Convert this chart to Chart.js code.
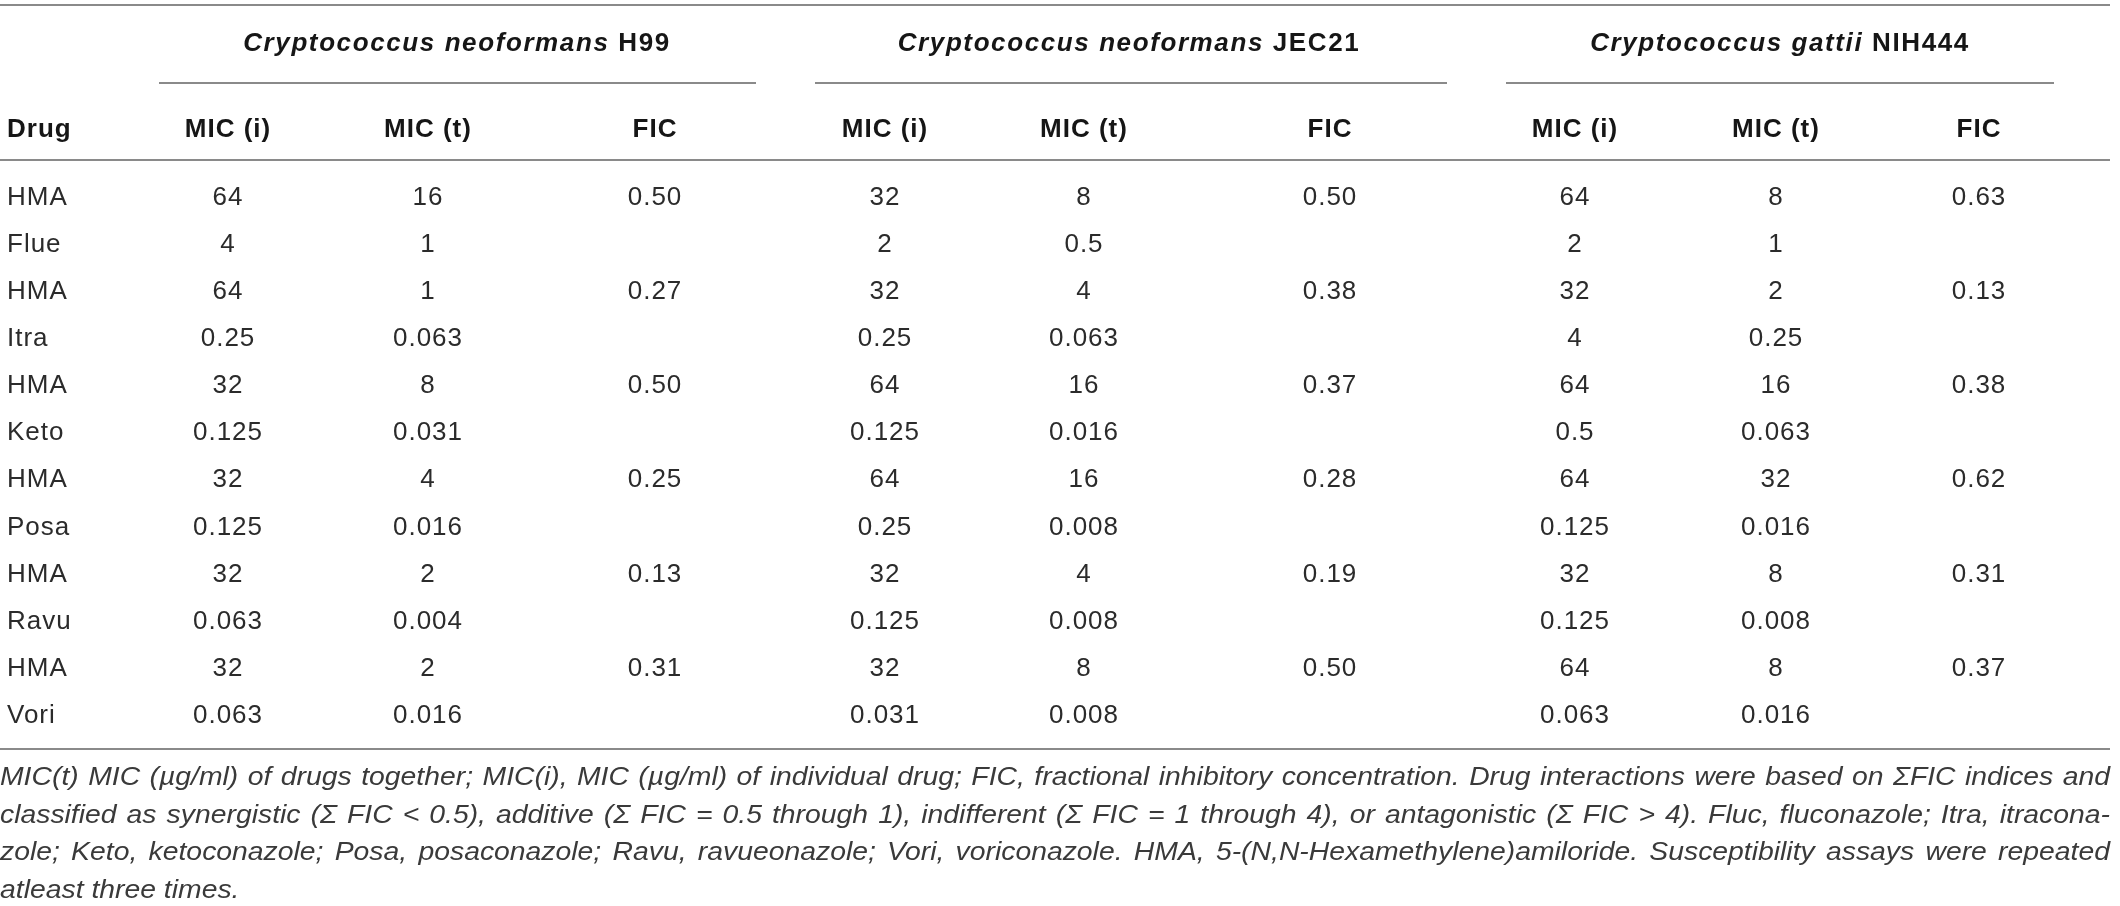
<!DOCTYPE html>
<html>
<head>
<meta charset="utf-8">
<script src="https://cdn.jsdelivr.net/npm/chart.js@4.4.1/dist/chart.umd.min.js"></script>
<style>
  html, body { margin: 0; padding: 0; background: #fff; }
  #wrap { width: 2120px; height: 906px; position: relative; }
</style>
</head>
<body>
<div id="wrap"><canvas id="table"></canvas></div>
<script>
// --- Data ---
const drugs = ['HMA', 'Flue', 'HMA', 'Itra', 'HMA', 'Keto', 'HMA', 'Posa', 'HMA', 'Ravu', 'HMA', 'Vori'];
const species = ['Cryptococcus neoformans', 'Cryptococcus neoformans', 'Cryptococcus gattii'];
const strains = ['H99', 'JEC21', 'NIH444'];
const subHeaders = ['MIC (i)', 'MIC (t)', 'FIC'];

const h99MicI = ['64', '4', '64', '0.25', '32', '0.125', '32', '0.125', '32', '0.063', '32', '0.063'];
const h99MicT = ['16', '1', '1', '0.063', '8', '0.031', '4', '0.016', '2', '0.004', '2', '0.016'];
const h99Fic = ['0.50', '', '0.27', '', '0.50', '', '0.25', '', '0.13', '', '0.31', ''];

const jec21MicI = ['32', '2', '32', '0.25', '64', '0.125', '64', '0.25', '32', '0.125', '32', '0.031'];
const jec21MicT = ['8', '0.5', '4', '0.063', '16', '0.016', '16', '0.008', '4', '0.008', '8', '0.008'];
const jec21Fic = ['0.50', '', '0.38', '', '0.37', '', '0.28', '', '0.19', '', '0.50', ''];

const nih444MicI = ['64', '2', '32', '4', '64', '0.5', '64', '0.125', '32', '0.125', '64', '0.063'];
const nih444MicT = ['8', '1', '2', '0.25', '16', '0.063', '32', '0.016', '8', '0.008', '8', '0.016'];
const nih444Fic = ['0.63', '', '0.13', '', '0.38', '', '0.62', '', '0.31', '', '0.37', ''];

const footnote = [
    'MIC(t) MIC (\u00b5g/ml) of drugs together; MIC(i), MIC (\u00b5g/ml) of individual drug; FIC, fractional inhibitory concentration. Drug interactions were based on \u03a3FIC indices and',
    'classified as synergistic (\u03a3 FIC < 0.5), additive (\u03a3 FIC = 0.5 through 1), indifferent (\u03a3 FIC = 1 through 4), or antagonistic (\u03a3 FIC > 4). Fluc, fluconazole; Itra, itracona-',
    'zole; Keto, ketoconazole; Posa, posaconazole; Ravu, ravueonazole; Vori, voriconazole. HMA, 5-(N,N-Hexamethylene)amiloride. Susceptibility assays were repeated',
    'atleast three times.'
];

// --- Layout (in page pixels, used as scale units) ---
const W = 2120, H = 906;
const FIRST_ROW_Y = 198;
const ROW_GAP = 47.05;
const DRUG_X = 7;
const colX = [[228, 428, 655], [885, 1084, 1330], [1575, 1776, 1979]];
const groupCenterX = [457, 1129, 1780];
const groupRuleX = [[159, 756], [815, 1447], [1506, 2054]];
const GROUP_Y = 44;
const HEADER_Y = 130;
const RULE_RIGHT = 2110;
const NOTE_FIRST_Y = 785;
const NOTE_GAP = 37.5;

const FONT = '"Liberation Sans", Arial, sans-serif';
const BODY_FONT = '26px ' + FONT;
const HEAD_FONT = 'bold 26px ' + FONT;
const BODY_COLOR = '#2b2b2b';
const HEAD_COLOR = '#161616';
const RULE_COLOR = '#8a8a8a';

const rowY = i => FIRST_ROW_Y + i * ROW_GAP;

// One dataset per table column, the text is drawn at each (invisible) point
const cellColumn = (values, x, align, font, color, yOf) => ({
    data: values.map((v, i) => ({ x: x, y: yOf(i) })),
    cellText: values,
    cellAlign: align,
    cellFont: font,
    cellColor: color,
    pointRadius: 0,
    pointHoverRadius: 0
});

const rule = (x0, x1, y) => ({
    data: [{ x: x0, y: y }, { x: x1, y: y }],
    showLine: true,
    borderColor: RULE_COLOR,
    borderWidth: 2,
    pointRadius: 0,
    pointHoverRadius: 0
});

const groupValues = [
    [h99MicI, h99MicT, h99Fic],
    [jec21MicI, jec21MicT, jec21Fic],
    [nih444MicI, nih444MicT, nih444Fic]
];

const datasets = [];

// Rules
datasets.push(rule(0, RULE_RIGHT, 5));
groupRuleX.forEach(r => datasets.push(rule(r[0], r[1], 83)));
datasets.push(rule(0, RULE_RIGHT, 160));
datasets.push(rule(0, RULE_RIGHT, 749));

// Header row
datasets.push(cellColumn(['Drug'], DRUG_X, 'left', HEAD_FONT, HEAD_COLOR, () => HEADER_Y));
colX.forEach(cols => {
    cols.forEach((x, k) => {
        datasets.push(cellColumn([subHeaders[k]], x, 'center', HEAD_FONT, HEAD_COLOR, () => HEADER_Y));
    });
});

// Group titles (species in italic, strain upright)
datasets.push({
    data: groupCenterX.map(x => ({ x: x, y: GROUP_Y })),
    groupTitle: true,
    pointRadius: 0,
    pointHoverRadius: 0
});

// Body
datasets.push(cellColumn(drugs, DRUG_X, 'left', BODY_FONT, BODY_COLOR, rowY));
groupValues.forEach((cols, g) => {
    cols.forEach((values, k) => {
        datasets.push(cellColumn(values, colX[g][k], 'center', BODY_FONT, BODY_COLOR, rowY));
    });
});

// Footnote anchor points (left edge of each line)
datasets.push({
    data: footnote.map((t, i) => ({ x: 0, y: NOTE_FIRST_Y + i * NOTE_GAP })),
    noteLines: footnote,
    pointRadius: 0,
    pointHoverRadius: 0
});

const cellTextPlugin = {
    id: 'cellText',
    afterDatasetsDraw(chart) {
        const ctx = chart.ctx;
        const xScale = chart.scales.x;
        ctx.save();
        chart.data.datasets.forEach((ds, di) => {
            const meta = chart.getDatasetMeta(di);

            if (ds.cellText) {
                ctx.font = ds.cellFont;
                ctx.fillStyle = ds.cellColor;
                ctx.textAlign = ds.cellAlign;
                ctx.textBaseline = 'middle';
                ctx.letterSpacing = '1px';
                meta.data.forEach((pt, j) => {
                    if (ds.cellText[j]) ctx.fillText(ds.cellText[j], pt.x, pt.y);
                });
            }

            if (ds.groupTitle) {
                ctx.fillStyle = HEAD_COLOR;
                ctx.textBaseline = 'middle';
                ctx.textAlign = 'left';
                ctx.letterSpacing = '1.6px';
                meta.data.forEach((pt, j) => {
                    const italicFont = 'italic bold 26px ' + FONT;
                    ctx.font = italicFont;
                    const part1 = species[j] + ' ';
                    const w1 = ctx.measureText(part1).width;
                    ctx.font = HEAD_FONT;
                    const w2 = ctx.measureText(strains[j]).width;
                    let x = pt.x - (w1 + w2) / 2;
                    ctx.font = italicFont;
                    ctx.fillText(part1, x, pt.y);
                    ctx.font = HEAD_FONT;
                    ctx.fillText(strains[j], x + w1, pt.y);
                });
            }

            if (ds.noteLines) {
                ctx.font = 'italic 25px ' + FONT;
                ctx.fillStyle = '#3a3a3a';
                ctx.textAlign = 'left';
                ctx.textBaseline = 'alphabetic';
                ctx.letterSpacing = '0px';
                const left = meta.data[0].x;
                const right = xScale.getPixelForValue(RULE_RIGHT);
                const spaceW = ctx.measureText(' ').width;
                // scale the glyphs so the first line nearly fills the width with plain spaces
                const first = ds.noteLines[0];
                const stretch = (right - left) / (ctx.measureText(first).width + 0.2 * spaceW * (first.split(' ').length - 1));
                meta.data.forEach((pt, j) => {
                    const text = ds.noteLines[j];
                    const words = text.split(' ');
                    const widths = words.map(w => ctx.measureText(w).width * stretch);
                    const total = widths.reduce((a, b) => a + b, 0);
                    const last = j === ds.noteLines.length - 1;
                    const gap = last ? spaceW * stretch : (right - pt.x - total) / (words.length - 1);
                    let x = pt.x;
                    words.forEach((w, k) => {
                        ctx.save();
                        ctx.translate(x, pt.y);
                        ctx.scale(stretch, 1);
                        ctx.fillText(w, 0, 0);
                        ctx.restore();
                        x += widths[k] + gap;
                    });
                });
            }
        });
        ctx.restore();
    }
};

new Chart(document.getElementById('table'), {
    type: 'scatter',
    data: { datasets: datasets },
    options: {
        responsive: true,
        maintainAspectRatio: false,
        animation: false,
        devicePixelRatio: 1,
        layout: { padding: 0 },
        events: [],
        plugins: {
            legend: { display: false },
            tooltip: { enabled: false }
        },
        scales: {
            x: { type: 'linear', min: 0, max: W, display: false },
            y: { type: 'linear', min: 0, max: H, reverse: true, display: false }
        }
    },
    plugins: [cellTextPlugin]
});
</script>
</body>
</html>
